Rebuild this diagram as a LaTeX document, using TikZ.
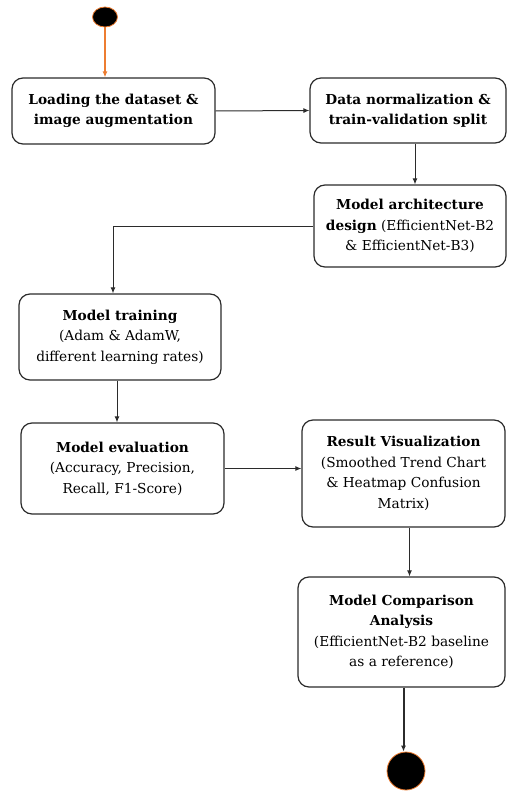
\documentclass[tikz,border=0pt]{standalone}
\usepackage{xcolor}
\usepackage{fontspec}
\setmainfont{DejaVu Serif}
\usepackage{tikz}
\usetikzlibrary{shapes.geometric,arrows.meta}

\definecolor{flowline}{HTML}{2B2B2B}
\definecolor{startorange}{HTML}{ED7D31}

\tikzset{
	actbox/.style={draw=flowline,line width=1.2pt,rounded corners=11pt,fill=white,align=center,
		inner sep=2pt,font=\fontsize{13.7}{20.5}\selectfont},
	flow/.style={draw=flowline,line width=1pt,-{Latex[length=6pt,width=5pt]}},
	dot/.style={fill=black,draw=startorange,line width=0.8pt,inner sep=0pt}
}

\begin{document}
\begin{tikzpicture}[x=1pt,y=-1pt]
				\useasboundingbox (0,0) rectangle (506,792);
				\node [dot,ellipse,minimum width=25pt,minimum height=20pt] (start) at (105,17) {};
				\node [actbox,minimum width=203pt,minimum height=66pt] (load) at (113.5,111) {\textbf{Loading the dataset \&}\\\textbf{image augmentation}};
				\node [actbox,minimum width=196pt,minimum height=65pt] (norm) at (408,110.5) {\textbf{Data normalization \&}\\\textbf{train-validation split}};
				\node [actbox,minimum width=192pt,minimum height=82pt] (arch) at (410,226) {\textbf{Model architecture}\\\textbf{design} (EfficientNet-B2\\\& EfficientNet-B3)};
				\node [actbox,minimum width=202pt,minimum height=86pt] (train) at (120,337) {\textbf{Model training}\\(Adam \& AdamW,\\different learning rates)};
				\node [actbox,minimum width=203pt,minimum height=91pt] (eval) at (122.5,468.5) {\textbf{Model evaluation}\\(Accuracy, Precision,\\Recall, F1-Score)};
				\node [actbox,minimum width=203pt,minimum height=107pt] (vis) at (403.5,473.5) {\textbf{Result Visualization}\\(Smoothed Trend Chart\\\& Heatmap Confusion\\Matrix)};
				\node [actbox,minimum width=207pt,minimum height=110pt] (comp) at (401.5,632) {\textbf{Model Comparison}\\\textbf{Analysis}\\(EfficientNet-B2 baseline\\as a reference)};
				\node [dot,circle,minimum size=38pt] (stop) at (406,771) {};

				\draw [flow,draw=startorange,line width=1.4pt,-{Latex[length=6pt,width=5pt,fill=startorange]}] (start.south) -- (start.south |- load.north);
				\draw [flow] (load.east) -- (norm.west);
				\draw [flow] ([xshift=7pt]norm.south) -- ([xshift=7pt]norm.south |- arch.north);
				\draw [flow] (arch.west) -| ([xshift=-7pt]train.north);
				\draw [flow] ([xshift=-3pt]train.south) -- ([xshift=-3pt]train.south |- eval.north);
				\draw [flow] (eval.east) -- (eval.east -| vis.west);
				\draw [flow] ([xshift=6pt]vis.south) -- ([xshift=6pt]vis.south |- comp.north);
				\draw [flow,line width=2pt] ([xshift=2pt]comp.south) -- ([xshift=2pt]comp.south |- stop.north);
			\end{tikzpicture}
\end{document}
